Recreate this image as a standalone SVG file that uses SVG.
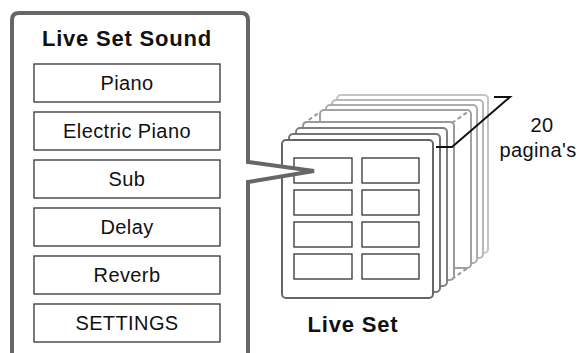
<svg xmlns="http://www.w3.org/2000/svg" width="580" height="353" viewBox="0 0 580 353">
<defs>
<style>
.lbl{font-family:"Liberation Sans",Arial,sans-serif;font-size:20px;fill:#111;text-anchor:middle;letter-spacing:0.4px}
.ttl{font-family:"Liberation Sans",Arial,sans-serif;font-size:22px;font-weight:bold;fill:#111;text-anchor:middle;letter-spacing:0.8px}
.box{fill:#fff;stroke:#333;stroke-width:1.3}
.page{fill:#fff;stroke-width:2}
.dash{fill:none;stroke:#999;stroke-width:2;stroke-dasharray:4 3}
</style>
</defs>
<rect width="580" height="353" fill="#fff"/>

<g id="live-set">
  <rect class="page" x="337" y="95" width="151" height="158" rx="4" stroke="#c4c4c4"/>
  <rect class="page" x="332" y="100" width="151" height="158" rx="4" stroke="#b8b8b8"/>
  <rect class="page" x="326" y="105" width="151" height="158" rx="4" stroke="#adadad"/>
  <rect class="page" x="320" y="110" width="151" height="158" rx="4" stroke="#a2a2a2"/>
  <rect class="page" x="303" y="122" width="151" height="158" rx="4" stroke="#999"/>
  <line class="dash" x1="303" y1="124" x2="320" y2="112"/>
  <line class="dash" x1="452" y1="123" x2="469" y2="111"/>
  <line class="dash" x1="452" y1="279" x2="469" y2="267"/>
  <rect class="page" x="296" y="128" width="151" height="158" rx="4" stroke="#808080"/>
  <rect class="page" x="289" y="134" width="151" height="158" rx="4" stroke="#747474"/>
  <rect class="page" x="282" y="140" width="151" height="158" rx="4" stroke="#666"/>
  <rect class="box" x="294" y="158" width="58" height="25"/>
  <rect class="box" x="362" y="158" width="57" height="25"/>
  <rect class="box" x="294" y="190" width="58" height="25"/>
  <rect class="box" x="362" y="190" width="57" height="25"/>
  <rect class="box" x="294" y="222" width="58" height="25"/>
  <rect class="box" x="362" y="222" width="57" height="25"/>
  <rect class="box" x="294" y="254" width="58" height="25"/>
  <rect class="box" x="362" y="254" width="57" height="25"/>
  <text class="ttl" x="353" y="332">Live Set</text>
</g>

<g id="pages-bracket">
  <polyline points="436,147 452,147 510,97 494,97" fill="none" stroke="#111" stroke-width="2"/>
  <text class="lbl" x="542" y="132">20</text>
  <text class="lbl" x="538" y="157">pagina's</text>
</g>

<g id="live-set-sound">
  <path d="M12,360 L12,20 Q12,13 19,13 L241,13 Q248,13 248,20 L248,162 L314,171 L248,182 L248,360 Z" fill="#fff" stroke="#666" stroke-width="4" stroke-linejoin="miter"/>
  <text class="ttl" x="127" y="46">Live Set Sound</text>
  <rect class="box" x="34" y="64" width="186" height="38"/>
  <text class="lbl" x="127" y="90">Piano</text>
  <rect class="box" x="34" y="112" width="186" height="38"/>
  <text class="lbl" x="127" y="138">Electric Piano</text>
  <rect class="box" x="34" y="160" width="186" height="38"/>
  <text class="lbl" x="127" y="186">Sub</text>
  <rect class="box" x="34" y="208" width="186" height="38"/>
  <text class="lbl" x="127" y="234">Delay</text>
  <rect class="box" x="34" y="256" width="186" height="38"/>
  <text class="lbl" x="127" y="282">Reverb</text>
  <rect class="box" x="34" y="304" width="186" height="38"/>
  <text class="lbl" x="127" y="330">SETTINGS</text>
</g>
</svg>
